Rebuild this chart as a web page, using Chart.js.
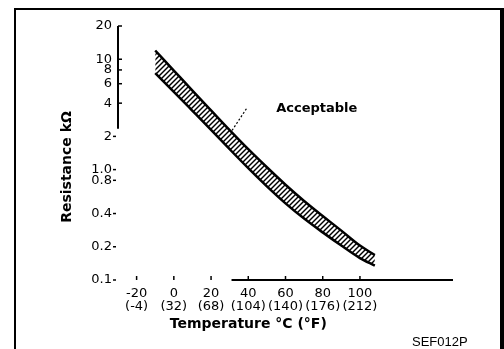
<!DOCTYPE html>
<html>
<head>
<meta charset="utf-8">
<script src="https://cdn.jsdelivr.net/npm/chart.js@4.4.1/dist/chart.umd.min.js"></script>
<style>
  html, body { margin: 0; padding: 0; background: #fff; }
  #wrap { position: relative; width: 504px; height: 349px; overflow: hidden; }
  #frame { position: absolute; left: 14px; top: 8px; width: 484px; height: 360px;
           border: 2px solid #000; border-right-width: 4px; }
  canvas { position: absolute; left: 0; top: 0; }
</style>
</head>
<body>
<div id="wrap">
  <div id="frame"></div>
  <canvas id="thermChart" width="504" height="349"></canvas>
</div>
<script>
// temperature (°C) vs resistance (kΩ)
const temps  = [-10, 0, 10, 20, 30, 40, 50, 60, 70, 80, 90, 100, 108];
const upperK = [12, 7.9, 5.2, 3.44, 2.28, 1.53, 1.05, 0.73, 0.52, 0.38, 0.28, 0.205, 0.168];
const lowerK = [7.5, 5.07, 3.41, 2.29, 1.53, 1.03, 0.705, 0.495, 0.36, 0.27, 0.205, 0.158, 0.135];

const xTicks   = [-20, 0, 20, 40, 60, 80, 100];
const xLabelsC = ["-20", "0", "20", "40", "60", "80", "100"];
const xLabelsF = ["(-4)", "(32)", "(68)", "(104)", "(140)", "(176)", "(212)"];

const yTicks  = [20, 10, 8, 6, 4, 2, 1, 0.8, 0.4, 0.2, 0.1];
const yLabels = ["20", "10", "8", "6", "4", "2", "1.0", "0.8", "0.4", "0.2", "0.1"];

const ctx = document.getElementById("thermChart");

function makeHatch() {
  const p = document.createElement("canvas");
  p.width = 5; p.height = 5;
  const g = p.getContext("2d");
  g.fillStyle = "#fff";
  g.fillRect(0, 0, 5, 5);
  g.strokeStyle = "#000";
  g.lineWidth = 1.4;
  g.beginPath(); g.moveTo(-1, 6); g.lineTo(6, -1); g.stroke();
  g.beginPath(); g.moveTo(-1, 1); g.lineTo(1, -1); g.stroke();
  g.beginPath(); g.moveTo(4, 6); g.lineTo(6, 4); g.stroke();
  return ctx.getContext("2d").createPattern(p, "repeat");
}

const font = '"DejaVu Sans", sans-serif';

// axes, tick marks, titles and the callout
const decor = {
  id: "decor",
  afterDraw(chart) {
    const c = chart.ctx;
    const x = chart.scales.x, y = chart.scales.y;
    c.save();
    c.strokeStyle = "#000";
    c.fillStyle = "#000";
    c.lineWidth = 2;

    c.beginPath();
    c.moveTo(x.left, y.getPixelForValue(20));
    c.lineTo(x.left, y.getPixelForValue(2.35));
    c.stroke();

    c.beginPath();
    c.moveTo(x.getPixelForValue(31), y.bottom);
    c.lineTo(x.getPixelForValue(150), y.bottom);
    c.stroke();

    c.lineWidth = 1.5;
    yTicks.forEach(v => {
      const py = y.getPixelForValue(v);
      c.beginPath();
      if (v >= 4) { c.moveTo(x.left, py); c.lineTo(x.left + 4, py); }
      else { c.moveTo(x.left - 5, py); c.lineTo(x.left - 2, py); }
      c.stroke();
    });
    xTicks.forEach(v => {
      const px = x.getPixelForValue(v);
      c.beginPath(); c.moveTo(px, y.bottom - 4); c.lineTo(px, y.bottom); c.stroke();
    });

    c.font = "bold 14px " + font;
    c.textAlign = "center";
    c.textBaseline = "middle";
    c.fillText("Temperature °C (°F)", x.getPixelForValue(40), 324);

    c.save();
    c.translate(67, 167);
    c.rotate(-Math.PI / 2);
    c.fillText("Resistance kΩ", 0, 0);
    c.restore();

    c.lineWidth = 1.2;
    c.setLineDash([2, 2]);
    c.beginPath();
    c.moveTo(x.getPixelForValue(39), y.getPixelForValue(3.56));
    c.lineTo(x.getPixelForValue(30.8), y.getPixelForValue(2.2));
    c.stroke();
    c.setLineDash([]);

    c.textAlign = "left";
    c.font = "bold 13px " + font;
    c.fillText("Acceptable", x.getPixelForValue(55), y.getPixelForValue(3.56));

    c.font = '13px "Liberation Sans", Arial, sans-serif';
    c.fillText("SEF012P", 412, 342);
    c.restore();
  }
};

new Chart(ctx, {
  type: "line",
  data: {
    datasets: [
      {
        label: "upper",
        data: temps.map((t, i) => ({ x: t, y: upperK[i] })),
        borderColor: "#000",
        borderWidth: 2.5,
        pointRadius: 0,
        cubicInterpolationMode: "monotone",
        fill: false,
      },
      {
        label: "lower",
        data: temps.map((t, i) => ({ x: t, y: lowerK[i] })),
        borderColor: "#000",
        borderWidth: 2.5,
        pointRadius: 0,
        cubicInterpolationMode: "monotone",
        fill: "-1",
        backgroundColor: makeHatch(),
      },
    ],
  },
  options: {
    responsive: false,
    animation: false,
    layout: { padding: { top: 26, right: 51, left: 0, bottom: 0 } },
    plugins: { legend: { display: false }, tooltip: { enabled: false } },
    scales: {
      x: {
        type: "linear",
        min: -30,
        max: 150,
        grid: { display: false, drawTicks: false },
        border: { display: false },
        afterBuildTicks: s => { s.ticks = xTicks.map(v => ({ value: v })); },
        afterFit: s => { s.height = 69; },
        ticks: {
          autoSkip: false,
          maxRotation: 0,
          padding: 7,
          color: "#000",
          font: { family: font, size: 13, lineHeight: 1 },
          callback: v => {
            const i = xTicks.indexOf(v);
            return [xLabelsC[i], xLabelsF[i]];
          },
        },
      },
      y: {
        type: "logarithmic",
        min: 0.1,
        max: 20,
        grid: { display: false, drawTicks: false },
        border: { display: false },
        afterBuildTicks: s => { s.ticks = yTicks.map(v => ({ value: v })); },
        afterFit: s => { s.width = 118; },
        ticks: {
          autoSkip: false,
          padding: 6,
          color: "#000",
          font: { family: font, size: 13 },
          callback: v => yLabels[yTicks.indexOf(v)],
        },
      },
    },
  },
  plugins: [decor],
});
</script>
</body>
</html>
